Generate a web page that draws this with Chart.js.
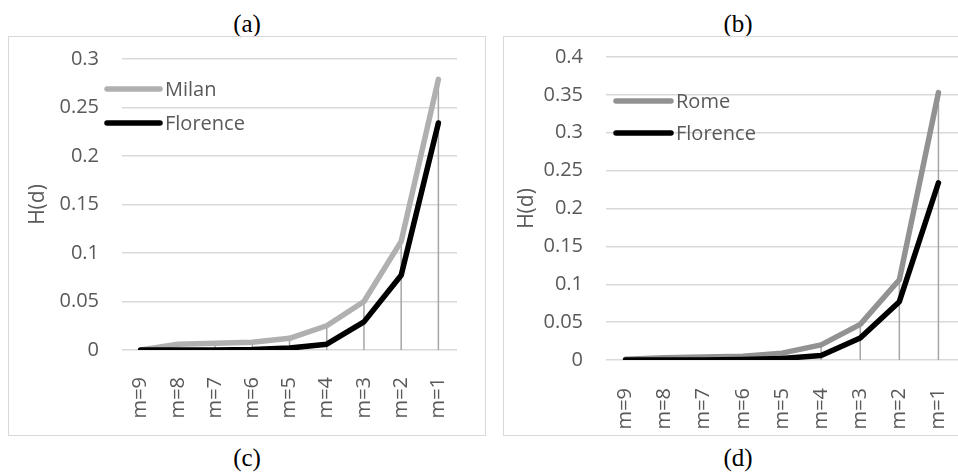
<!DOCTYPE html>
<html>
<head>
<meta charset="utf-8">
<script src="https://cdn.jsdelivr.net/npm/chart.js@4/dist/chart.umd.min.js"></script>
<style>
  html, body { margin: 0; padding: 0; width: 958px; height: 473px; overflow: hidden; background: #ffffff; }
  .panel { position: absolute; border: 1.5px solid #d9d9d9; box-sizing: border-box; }
  .panel canvas { position: absolute; left: 0; top: 0; }
  .cap { position: absolute; font-family: "Liberation Serif", "Times New Roman", serif; font-size: 25px; color: #000; width: 60px; text-align: center; line-height: 26px; }
</style>
</head>
<body>
<div class="cap" style="left:217px; top:11px;">(a)</div>
<div class="cap" style="left:708px; top:11px;">(b)</div>
<div class="cap" style="left:217px; top:445px;">(c)</div>
<div class="cap" style="left:708px; top:445px;">(d)</div>

<div class="panel" style="left:8px; top:36px; width:478px; height:400px;">
  <canvas id="c1" width="478" height="400"></canvas>
</div>
<div class="panel" style="left:503px; top:36px; width:466px; height:400px;">
  <canvas id="c2" width="466" height="400"></canvas>
</div>

<script>
// ---- data ----
const categories = ["m=9", "m=8", "m=7", "m=6", "m=5", "m=4", "m=3", "m=2", "m=1"];
const milan    = [0.000, 0.006, 0.007, 0.008, 0.012, 0.025, 0.050, 0.112, 0.279];
const florence = [0.000, 0.000, 0.000, 0.0005, 0.002, 0.006, 0.029, 0.077, 0.234];
const rome     = [0.001, 0.003, 0.004, 0.005, 0.009, 0.020, 0.047, 0.106, 0.353];
const yTicksLeft  = [0, 0.05, 0.1, 0.15, 0.2, 0.25, 0.3];
const yTicksRight = [0, 0.05, 0.1, 0.15, 0.2, 0.25, 0.3, 0.35, 0.4];
const yTitle = "H(d)";

const FONT = "'Open Sans', 'Noto Sans', sans-serif";
const TXT = "#595959";
const CLEAR = "rgba(0,0,0,0)";

const dropLines = {
  id: 'dropLines',
  beforeDatasetsDraw(chart) {
    const ctx = chart.ctx;
    const y = chart.scales.y;
    const metas = chart.getSortedVisibleDatasetMetas();
    const n = chart.data.labels.length;
    const base = y.getPixelForValue(0);
    ctx.save();
    ctx.strokeStyle = '#a6a6a6';
    ctx.lineWidth = 1.5;
    for (let i = 0; i < n; i++) {
      let top = base, x = null;
      metas.forEach(m => { const p = m.data[i]; if (p) { x = p.x; top = Math.min(top, p.y); } });
      if (x === null) continue;
      ctx.beginPath();
      ctx.moveTo(x, top);
      ctx.lineTo(x, base);
      ctx.stroke();
    }
    ctx.restore();
  }
};

const innerLegend = {
  id: 'innerLegend',
  afterDraw(chart, args, opts) {
    const ctx = chart.ctx;
    const a = chart.chartArea;
    ctx.save();
    ctx.font = "20px " + FONT;
    ctx.textBaseline = 'middle';
    ctx.textAlign = 'left';
    chart.data.datasets.forEach((ds, i) => {
      const y = a.top + opts.dy + i * opts.gap;
      const x0 = a.left + opts.dx;
      ctx.strokeStyle = ds.borderColor;
      ctx.lineWidth = 5.5;
      ctx.lineCap = 'round';
      ctx.beginPath();
      ctx.moveTo(x0, y);
      ctx.lineTo(x0 + opts.len, y);
      ctx.stroke();
      ctx.fillStyle = TXT;
      ctx.fillText(ds.label, x0 + opts.len + 5, y + 1);
    });
    ctx.restore();
  }
};

function makeChart(id, series, yTicks, max, geom) {
  const datasets = series.map(s => ({
    label: s.label,
    data: s.data,
    borderColor: s.color,
    backgroundColor: s.color,
    borderWidth: 5.5,
    pointRadius: 0,
    pointHoverRadius: 0,
    tension: 0,
    borderJoinStyle: 'round',
    borderCapStyle: 'round',
    order: s.order,
    fill: false
  }));
  return new Chart(document.getElementById(id), {
    type: 'line',
    data: { labels: categories, datasets },
    plugins: [dropLines, innerLegend],
    options: {
      responsive: false,
      animation: false,
      events: [],
      layout: { padding: { top: geom.top, right: geom.right, left: 0, bottom: 0 } },
      plugins: {
        legend: { display: false },
        tooltip: { enabled: false },
        innerLegend: geom.legend
      },
      scales: {
        x: {
          offset: true,
          grid: { display: true, drawOnChartArea: false, drawTicks: true, tickLength: geom.xTick, color: CLEAR, tickColor: CLEAR },
          border: { display: false },
          ticks: {
            minRotation: 90, maxRotation: 90, padding: 3,
            color: TXT, font: { family: FONT, size: 20 }
          },
          afterFit(scale) { scale.height = geom.xHeight; }
        },
        y: {
          min: 0, max: max,
          afterBuildTicks(scale) { scale.ticks = yTicks.map(v => ({ value: v })); },
          grid: { color: '#d9d9d9', lineWidth: 1.5, drawTicks: true, tickLength: geom.tickPad - 3, tickColor: CLEAR },
          border: { display: false },
          ticks: {
            padding: 3,
            color: TXT, font: { family: FONT, size: 20 },
            callback: v => String(v)
          },
          title: {
            display: true, text: yTitle, color: TXT,
            font: { family: FONT, size: 21 },
            padding: { top: geom.titlePad, bottom: 0 }
          },
          afterFit(scale) { scale.width = geom.yWidth; }
        }
      }
    }
  });
}

makeChart('c1', [
  { label: 'Milan', data: milan, color: '#b0b0b0', order: 1 },
  { label: 'Florence', data: florence, color: '#000000', order: 0 }
], yTicksLeft, 0.3, {
  top: 22, right: 30, xHeight: 87, yWidth: 113, tickPad: 23, titlePad: 16, xTick: 24,
  legend: { dx: -15, dy: 30, gap: 34, len: 53 }
});

makeChart('c2', [
  { label: 'Rome', data: rome, color: '#929292', order: 1 },
  { label: 'Florence', data: florence, color: '#000000', order: 0 }
], yTicksRight, 0.4, {
  top: 20, right: 12, xHeight: 77, yWidth: 102, tickPad: 23, titlePad: 10, xTick: 25,
  legend: { dx: 10, dy: 44, gap: 32, len: 55 }
});
</script>
</body>
</html>
